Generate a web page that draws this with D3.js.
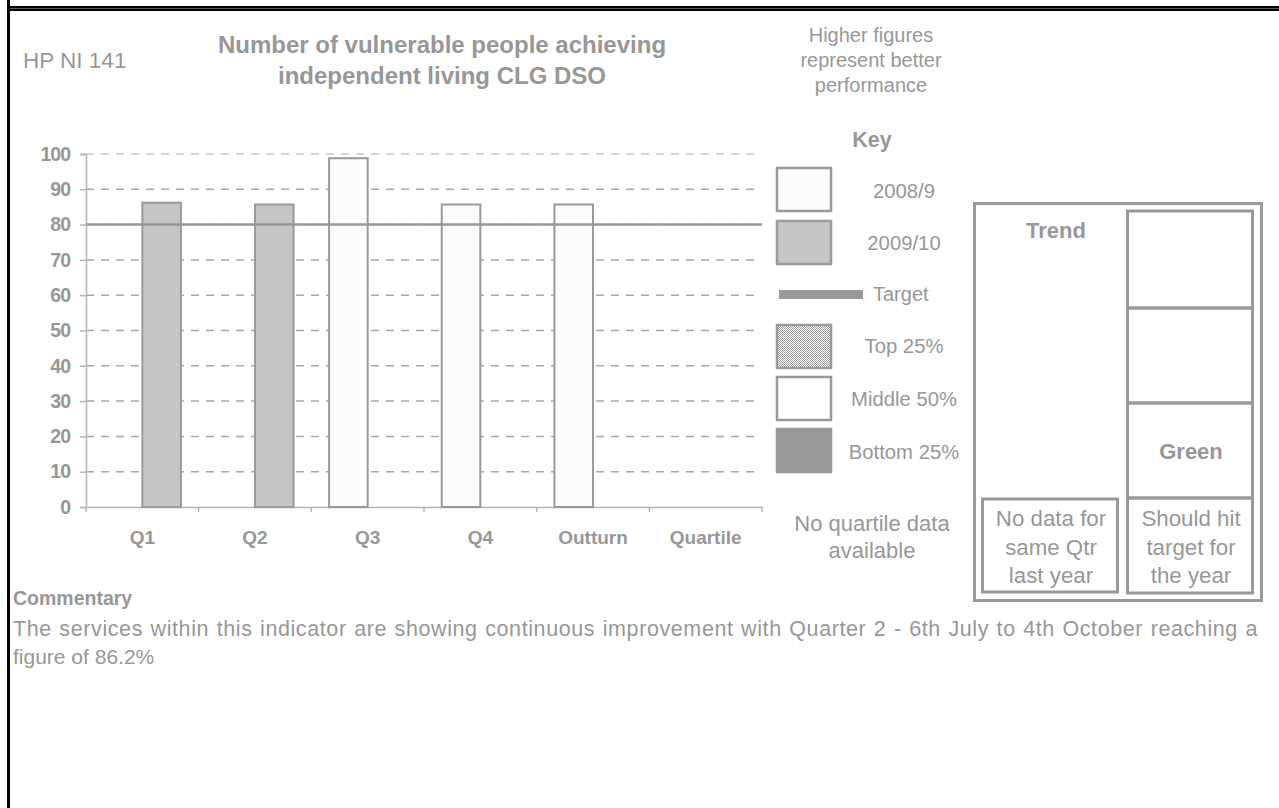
<!DOCTYPE html>
<html>
<head>
<meta charset="utf-8">
<script src="https://cdn.jsdelivr.net/npm/d3@7"></script>
<style>
html,body{margin:0;padding:0;background:#fff;}
svg{display:block;font-family:"Liberation Sans",Arial,sans-serif;}
</style>
</head>
<body>
<svg id="chart" width="1279" height="808"></svg>
<script>
// ---- data ----
const categories = ["Q1", "Q2", "Q3", "Q4", "Outturn", "Quartile"];
const seriesNames = ["2008/9", "2009/10"];
const values2008 = [null, null, 98.8, 85.7, 85.7, null];
const values2009 = [86.2, 85.7, null, null, null, null];
const targetValue = 80;
const yTicks = [0, 10, 20, 30, 40, 50, 60, 70, 80, 90, 100];
const keyItems = ["2008/9", "2009/10", "Target", "Top 25%", "Middle 50%", "Bottom 25%"];

const grey = "#999";
const txt = "#979797";
const svg = d3.select("#chart");

// pattern for Top 25%
const defs = svg.append("defs");
const pat = defs.append("pattern").attr("id", "dots").attr("width", 2).attr("height", 2)
  .attr("patternUnits", "userSpaceOnUse");
pat.append("rect").attr("width", 2).attr("height", 2).attr("fill", "#fff");
pat.append("rect").attr("x", 0).attr("y", 0).attr("width", 1).attr("height", 1).attr("fill", "#9a9a9a");
pat.append("rect").attr("x", 1).attr("y", 1).attr("width", 1).attr("height", 1).attr("fill", "#9a9a9a");

// page borders
svg.append("rect").attr("x", 7).attr("y", 6).attr("width", 1272).attr("height", 5).attr("fill", "#000");
svg.append("line").attr("x1", 7).attr("x2", 1279).attr("y1", 8.5).attr("y2", 8.5).attr("stroke", "#555").attr("stroke-width", 1);
svg.append("rect").attr("x", 7).attr("y", 0).attr("width", 3).attr("height", 808).attr("fill", "#000");

// ---- scales ----
const x = d3.scaleBand().domain(categories).range([86, 762]).padding(0);
const xs = d3.scaleBand().domain(seriesNames).range([0, x.bandwidth()]).paddingInner(0).paddingOuter(0.46);
const y = d3.scaleLinear().domain([0, 100]).range([507, 154]);

// grid lines
svg.append("g").selectAll("line").data(yTicks.filter(d => d > 0)).join("line")
  .attr("x1", 86).attr("x2", 756)
  .attr("y1", d => y(d)).attr("y2", d => y(d))
  .attr("stroke", d => d === 100 ? "#c8c8c8" : "#a8a8a8")
  .attr("stroke-width", 1.5)
  .attr("stroke-dasharray", "8,7");

// y axis
const yAxis = svg.append("g").attr("transform", "translate(86,0)")
  .call(d3.axisLeft(y).tickValues(yTicks).tickSize(6).tickPadding(10).tickFormat(d3.format("d")));
yAxis.select(".domain").attr("stroke", "#b4b4b4").attr("stroke-width", 1.5);
yAxis.selectAll(".tick line").attr("stroke", "#b4b4b4").attr("stroke-width", 1.5);
yAxis.selectAll(".tick text").attr("fill", txt).attr("font-size", 19.5).attr("font-weight", "bold")
  .attr("letter-spacing", -1).attr("font-family", "Liberation Sans, Arial, sans-serif");

// x axis
const xAxis = svg.append("g").attr("transform", "translate(0,507)")
  .call(d3.axisBottom(x).tickSize(0).tickPadding(35));
xAxis.select(".domain").attr("stroke", "#b4b4b4").attr("stroke-width", 1.5);
xAxis.selectAll(".tick text").attr("fill", txt).attr("font-size", 19).attr("font-weight", "bold")
  .attr("font-family", "Liberation Sans, Arial, sans-serif").attr("dy", "0.1em");
// boundary ticks
const bounds = categories.map(c => x(c)).concat([x(categories[categories.length - 1]) + x.bandwidth()]);
xAxis.selectAll("line.bt").data(bounds).join("line").attr("class", "bt")
  .attr("x1", d => d).attr("x2", d => d).attr("y1", 0).attr("y2", 5)
  .attr("stroke", "#b4b4b4").attr("stroke-width", 1.5);

// bars
const barData = [];
categories.forEach((c, i) => {
  if (values2008[i] != null) barData.push({ c, s: "2008/9", v: values2008[i] });
  if (values2009[i] != null) barData.push({ c, s: "2009/10", v: values2009[i] });
});
svg.append("g").selectAll("rect").data(barData).join("rect")
  .attr("x", d => x(d.c) + xs(d.s))
  .attr("width", xs.bandwidth())
  .attr("y", d => y(d.v))
  .attr("height", d => y(0) - y(d.v))
  .attr("fill", d => d.s === "2008/9" ? "#fcfcfc" : "#c6c6c6")
  .attr("stroke", grey).attr("stroke-width", 2);

// target line
svg.append("line").attr("x1", 86).attr("x2", 762)
  .attr("y1", y(targetValue)).attr("y2", y(targetValue))
  .attr("stroke", grey).attr("stroke-width", 2.5);

// ---- texts ----
function text(xp, yp, str, size, opts = {}) {
  return svg.append("text").attr("x", xp).attr("y", yp).text(str)
    .attr("font-size", size).attr("fill", txt)
    .attr("font-weight", opts.bold ? "bold" : "normal")
    .attr("text-anchor", opts.anchor || "middle");
}
text(23, 68, "HP NI 141", 22.5, { anchor: "start" });
text(442, 53, "Number of vulnerable people achieving", 24, { bold: true });
text(442, 84, "independent living CLG DSO", 24, { bold: true });

text(871, 42, "Higher figures", 20);
text(871, 67, "represent better", 20);
text(871, 92, "performance", 20);

text(872, 147, "Key", 21.5, { bold: true });

// key
const keyY = { "2008/9": [167, 212, 198], "2009/10": [220, 265, 250], "Target": [290, 299, 301],
  "Top 25%": [324, 369, 353], "Middle 50%": [376, 421, 406], "Bottom 25%": [428, 473, 459] };
const keyFill = { "2008/9": "#fcfcfc", "2009/10": "#c6c6c6", "Top 25%": "url(#dots)", "Middle 50%": "#fff", "Bottom 25%": grey };
keyItems.forEach(k => {
  const [t, b, base] = keyY[k];
  if (k === "Target") {
    svg.append("rect").attr("x", 779).attr("y", t).attr("width", 84).attr("height", b - t).attr("fill", grey);
    text(873, base, k, 20, { anchor: "start" });
  } else {
    svg.append("rect").attr("x", 777).attr("y", t + 1).attr("width", 54).attr("height", b - t - 2)
      .attr("fill", keyFill[k]).attr("stroke", grey).attr("stroke-width", 2.5);
    text(904, base, k, 20.3);
  }
});

text(872, 531, "No quartile data", 22);
text(872, 558, "available", 22);

// trend box
const box = (x0, y0, w, h) => svg.append("rect").attr("x", x0).attr("y", y0).attr("width", w).attr("height", h)
  .attr("fill", "none").attr("stroke", grey).attr("stroke-width", 3);
box(974.5, 203.5, 287, 397);
box(982.5, 499, 135, 93);
[[211, 308], [308, 403], [403, 498], [498, 593]].forEach(([a, b]) => box(1127.5, a, 125, b - a));
text(1056, 238, "Trend", 22, { bold: true });
text(1191, 459, "Green", 22, { bold: true });
text(1051, 526, "No data for", 22.3);
text(1051, 555, "same Qtr", 22.3);
text(1051, 583, "last year", 22.3);
text(1191, 526, "Should hit", 22.3);
text(1191, 555, "target for", 22.3);
text(1191, 583, "the year", 22.3);

// commentary
text(13, 605, "Commentary", 19.5, { bold: true, anchor: "start" });
const longLine = "The services within this indicator are showing continuous improvement with Quarter 2 - 6th July to 4th October reaching a";
const cl = text(13, 636, longLine, 21.5, { anchor: "start" }).attr("letter-spacing", 0.6);
const natural = cl.node().getComputedTextLength();
const spaces = (longLine.match(/ /g) || []).length;
cl.attr("word-spacing", Math.max(0, (1245 - natural) / spaces));
text(13, 664, "figure of 86.2%", 21, { anchor: "start" });
</script>
</body>
</html>
